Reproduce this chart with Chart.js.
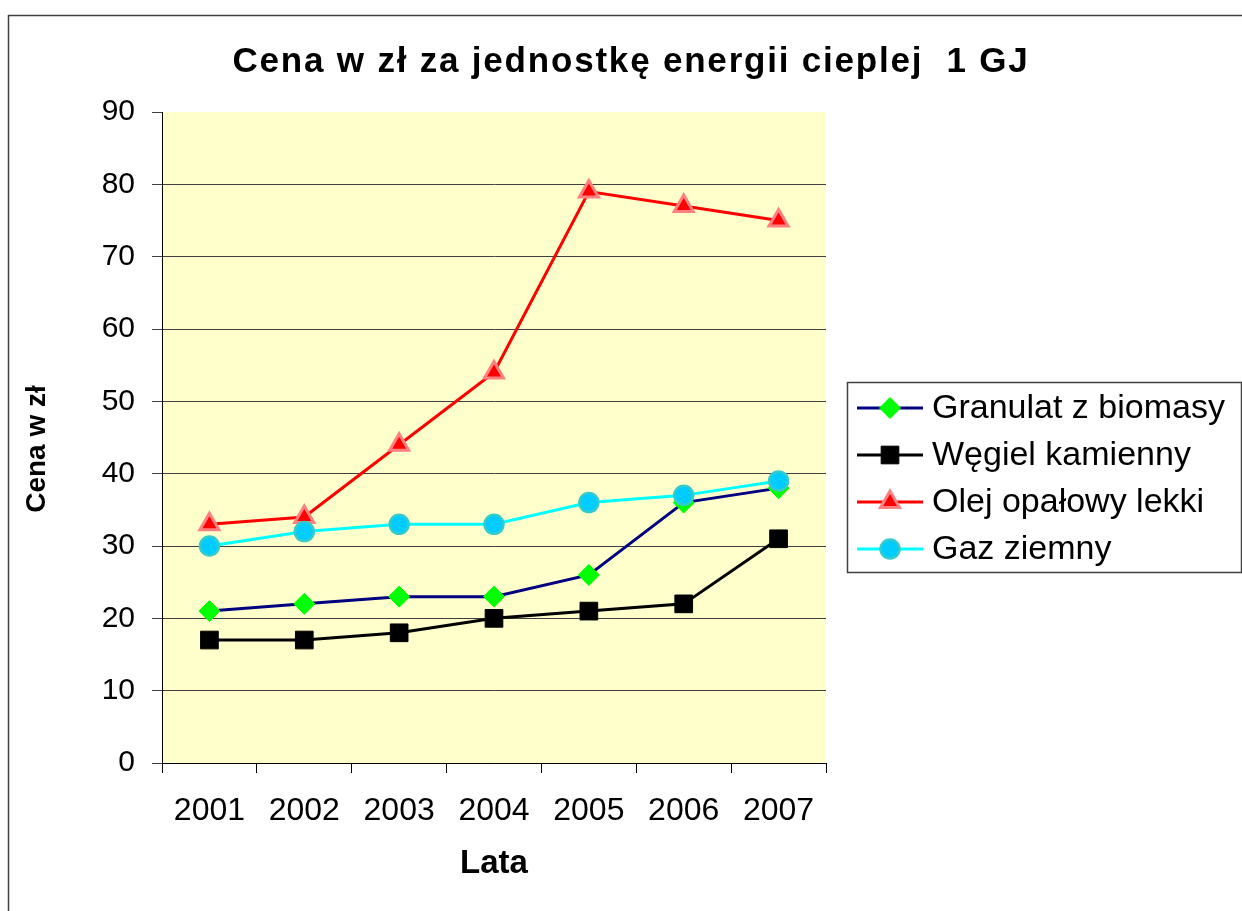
<!DOCTYPE html>
<html>
<head>
<meta charset="utf-8">
<script src="https://cdn.jsdelivr.net/npm/chart.js@4/dist/chart.umd.min.js"></script>
<style>
  html, body { margin: 0; padding: 0; background: #ffffff; }
  #wrap { width: 1242px; height: 911px; }
</style>
</head>
<body>
<div id="wrap"><canvas id="c" width="1242" height="911"></canvas></div>
<script>
const categories = ['2001', '2002', '2003', '2004', '2005', '2006', '2007'];
const granulat = [21, 22, 23, 23, 26, 36, 38];
const wegiel = [17, 17, 18, 20, 21, 22, 31];
const olej = [33, 34, 44, 54, 79, 77, 75];
const gaz = [30, 32, 33, 33, 36, 37, 39];
const seriesNames = ['Granulat z biomasy', 'Węgiel kamienny', 'Olej opałowy lekki', 'Gaz ziemny'];
const yTicks = [0, 10, 20, 30, 40, 50, 60, 70, 80, 90];
const chartTitle = 'Cena w zł za jednostkę energii cieplej  1 GJ';
const yTitle = 'Cena w zł';
const xTitle = 'Lata';

const FONT = '"Liberation Sans", Arial, sans-serif';

const datasets = [
  { label: seriesNames[0], data: granulat, borderColor: '#000080', borderWidth: 3,
    pointStyle: 'rectRot', pointRadius: 10.5, pointBackgroundColor: '#00FF00', pointBorderColor: '#00FF00', pointBorderWidth: 1, order: 3 },
  { label: seriesNames[1], data: wegiel, borderColor: '#000000', borderWidth: 3,
    pointStyle: 'rect', pointRadius: 12.5, pointBackgroundColor: '#000000', pointBorderColor: '#000000', pointBorderWidth: 1, order: 2 },
  { label: seriesNames[2], data: olej, borderColor: '#FF0000', borderWidth: 3,
    pointStyle: 'triangle', pointRadius: 11, pointBackgroundColor: '#FF0000', pointBorderColor: '#FF8080', pointBorderWidth: 3, order: 1 },
  { label: seriesNames[3], data: gaz, borderColor: '#00FFFF', borderWidth: 3,
    pointStyle: 'circle', pointRadius: 9.5, pointBackgroundColor: '#00CCFF', pointBorderColor: '#33CCCC', pointBorderWidth: 2.5, order: 0 }
];

const decor = {
  id: 'decor',
  beforeDraw(chart) {
    const ctx = chart.ctx, a = chart.chartArea;
    ctx.save();
    ctx.fillStyle = '#ffffff';
    ctx.fillRect(0, 0, chart.width, chart.height);
    ctx.strokeStyle = '#404040';
    ctx.lineWidth = 1.5;
    ctx.strokeRect(8.5, 15.5, 1400, 1100);
    ctx.fillStyle = '#FFFFCC';
    ctx.fillRect(a.left, a.top, a.right - a.left, a.bottom - a.top);
    ctx.restore();
  },
  afterDraw(chart) {
    const ctx = chart.ctx;
    ctx.save();
    // title
    ctx.fillStyle = '#000000';
    ctx.font = 'bold 35px ' + FONT;
    ctx.textAlign = 'center';
    ctx.textBaseline = 'middle';
    try { ctx.letterSpacing = '1.8px'; } catch (e) {}
    ctx.fillText(chartTitle, 631, 62);
    try { ctx.letterSpacing = '0px'; } catch (e) {}
    // y axis title
    ctx.save();
    ctx.translate(37, 449);
    ctx.rotate(-Math.PI / 2);
    ctx.font = 'bold 28px ' + FONT;
    ctx.textAlign = 'center';
    ctx.textBaseline = 'middle';
    ctx.fillText(yTitle, 0, 0);
    ctx.restore();
    // legend
    const lx = 847, ly = 382, lw = 394, lh = 190;
    ctx.fillStyle = '#ffffff';
    ctx.fillRect(lx, ly, lw, lh);
    ctx.strokeStyle = '#404040';
    ctx.lineWidth = 1.5;
    ctx.strokeRect(lx + 0.5, ly + 0.5, lw, lh);
    const rows = [408, 455, 502, 549];
    chart.data.datasets.forEach((ds, i) => {
      const y = rows[i];
      ctx.strokeStyle = ds.borderColor;
      ctx.lineWidth = ds.borderWidth;
      ctx.beginPath();
      ctx.moveTo(857, y);
      ctx.lineTo(923, y);
      ctx.stroke();
      ctx.fillStyle = ds.pointBackgroundColor;
      ctx.strokeStyle = ds.pointBorderColor;
      ctx.lineWidth = ds.pointBorderWidth;
      Chart.helpers.drawPoint(ctx, { pointStyle: ds.pointStyle, radius: ds.pointRadius, rotation: 0, borderWidth: ds.pointBorderWidth }, 890, y);
      ctx.fillStyle = '#000000';
      ctx.font = '34px ' + FONT;
      ctx.textAlign = 'left';
      ctx.textBaseline = 'middle';
      ctx.fillText(ds.label, 932, y + 1);
    });
    ctx.restore();
  }
};

new Chart(document.getElementById('c'), {
  type: 'line',
  data: { labels: categories, datasets: datasets },
  plugins: [decor],
  options: {
    responsive: false,
    animation: false,
    devicePixelRatio: 1,
    layout: { padding: { top: 112, right: 416, bottom: 0, left: 0 } },
    plugins: { legend: { display: false }, title: { display: false }, tooltip: { enabled: false } },
    elements: { line: { tension: 0 } },
    scales: {
      x: {
        type: 'category',
        offset: true,
        afterFit(s) { s.height = 148; },
        border: { display: true, color: '#000000', width: 1 },
        grid: { display: true, offset: true, drawOnChartArea: false, drawTicks: true, tickLength: 10, color: '#000000', lineWidth: 1 },
        ticks: { color: '#000000', font: { family: FONT, size: 32 }, padding: 19, maxRotation: 0, autoSkip: false },
        title: { display: true, text: xTitle, color: '#000000', font: { family: FONT, size: 33, weight: 'bold' }, padding: { top: 0, bottom: 27 } }
      },
      y: {
        min: 0, max: 90,
        afterFit(s) { s.width = 162; },
        afterBuildTicks(s) { s.ticks = yTicks.map(v => ({ value: v })); },
        border: { display: true, color: '#000000', width: 1 },
        grid: {
          color: (c) => (c.tick && c.tick.value === 90) ? 'rgba(0,0,0,0)' : '#404040',
          tickColor: '#404040', lineWidth: 1, drawTicks: true, tickLength: 10
        },
        ticks: { color: '#000000', font: { family: FONT, size: 30 }, padding: 17 },
        title: { display: false }
      }
    }
  }
});
</script>
</body>
</html>
